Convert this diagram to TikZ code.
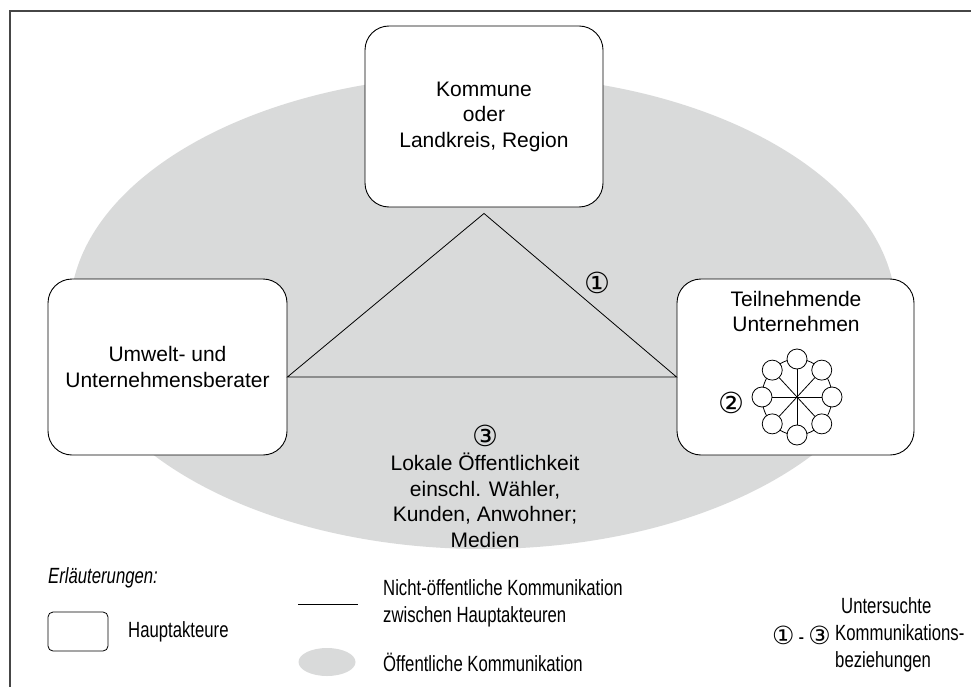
\documentclass[tikz,border=0pt]{standalone}
\usepackage{fontspec}
\setmainfont{Liberation Sans}
\newfontfamily\dejavu{DejaVu Sans}
\newfontfamily\narrowf[FakeStretch=0.76]{Liberation Sans}
\usetikzlibrary{shapes.geometric,calc}
\definecolor{pubgray}{RGB}{217,218,218}
\definecolor{framegray}{RGB}{70,70,70}
\tikzset{
  actor/.style={draw=black, line width=0.9pt, fill=white, rounded corners=24pt, rectangle, inner sep=0pt,
    font=\fontsize{21}{25.5}\selectfont, align=center},
  comm/.style={draw=black, line width=0.8pt},
  maintext/.style={font=\fontsize{21}{25.5}\selectfont, align=center, inner sep=0pt},
  legtext/.style={font=\narrowf\fontsize{22}{27}\selectfont, align=left, anchor=west, inner sep=0pt},
  circnum/.style={font=\dejavu\fontsize{29}{30}\selectfont, inner sep=0pt},
  wheelc/.style={circle, draw=black, line width=0.8pt, fill=white, minimum size=20pt, inner sep=0pt},
}
\begin{document}
\begin{tikzpicture}[x=1pt,y=-1pt]
\useasboundingbox (0,0) rectangle (971,687);
% frame
\draw[framegray, line width=2pt] (10,687) -- (10,11) -- (971,11);
% public communication
\fill[pubgray] (483,312) ellipse [x radius=413, y radius=237];
% actors
\node[actor, minimum width=238pt, minimum height=181pt] (kom) at (484,116.5) {Kommune\\oder\\Landkreis, Region};
\node[actor, minimum width=239pt, minimum height=176pt] (ber) at (167.5,367) {Umwelt- und\\Unternehmensberater};
\node[actor, minimum width=237pt, minimum height=176pt] (unt) at (795.5,367) {};
\node[maintext, anchor=north] (untt) at (796,291) {Teilnehmende\\Unternehmen};
% triangle
\coordinate (apex) at ([yshift=-6pt]kom.south);
\coordinate (bl) at ([yshift=-10pt]ber.east);
\coordinate (br) at ([yshift=-10pt]unt.west);
\draw[comm] (apex) -- (br) -- (bl) -- cycle;
\node[circnum] (n1) at (597,283) {①};
% wheel
\coordinate (wc) at (797,397);
\draw[comm] (wc) ellipse [x radius=35, y radius=38];
\foreach \i/\a in {1/0,2/45,3/90,4/135,5/180,6/225,7/270,8/315}{
  \node[wheelc] (w\i) at ($(wc)+(\a:35 and 38)$) {};
  \draw[comm] (wc) -- (w\i);
}
\node[circnum] (n2) at (731,403) {②};
% public text
\node[circnum] (n3) at (485,436) {③};
\node[maintext, anchor=north] (pub) at (485,453) {Lokale Öffentlichkeit\\einschl. Wähler,\\Kunden, Anwohner;\\Medien};
% legend
\node[legtext, font=\narrowf\itshape\fontsize{22}{27}\selectfont] (erl) at (48,578) {Erläuterungen:};
\node[draw=black, line width=0.8pt, rounded corners=5pt, minimum width=60pt, minimum height=39pt, inner sep=0pt] (legbox) at (78,631.5) {};
\node[legtext] (legbt) at (128,632) {Hauptakteure};
\coordinate (ll1) at (298,604);
\coordinate (ll2) at (358,604);
\draw[comm] (ll1) -- (ll2);
\node[legtext] (leglt) at (383,603.5) {Nicht-öffentliche Kommunikation\\zwischen Hauptakteuren};
\node[ellipse, fill=pubgray, minimum width=57pt, minimum height=28pt, inner sep=0pt] (legell) at (327,662) {};
\node[legtext] (leget) at (383,662) {Öffentliche Kommunikation};
\node[legtext] (legut) at (835,635) {\hspace*{6pt}Untersuchte\\Kommunikations-\\beziehungen};
\node[circnum, anchor=east, font=\dejavu\fontsize{25}{27}\selectfont] (legnum) at (831,635) {①\,{\narrowf\fontsize{22}{27}\selectfont -}\,③};
\end{tikzpicture}
\end{document}
